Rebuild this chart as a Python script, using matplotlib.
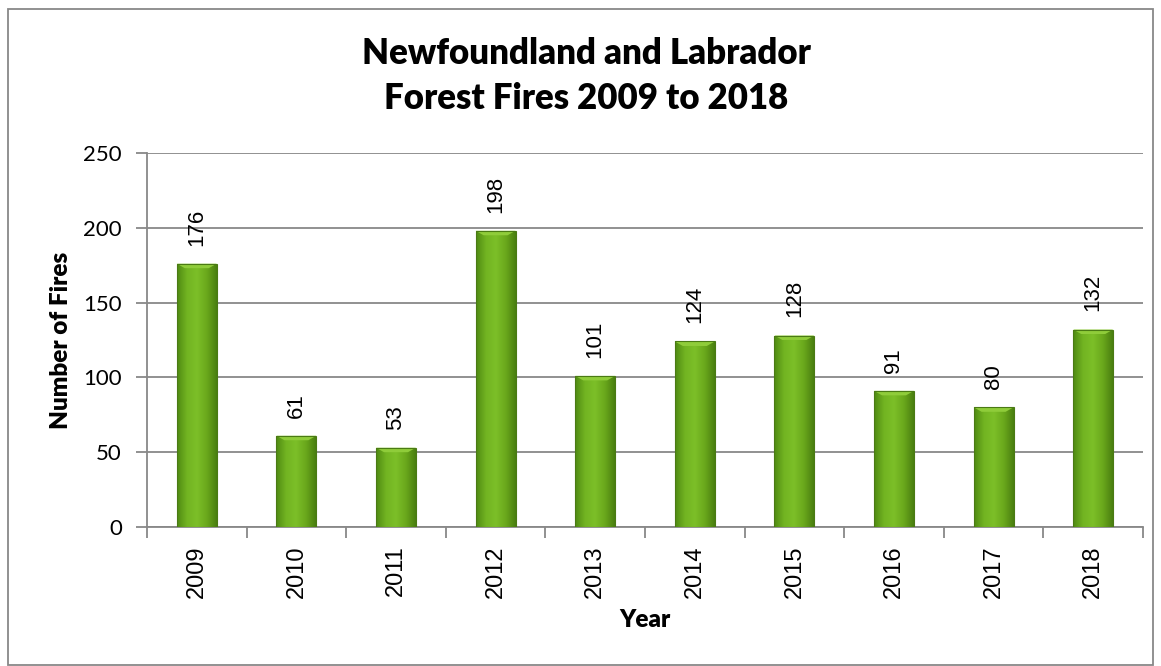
import numpy as np
import matplotlib.pyplot as plt
from matplotlib.patches import Rectangle
from matplotlib.colors import LinearSegmentedColormap

years = ['2009', '2010', '2011', '2012', '2013', '2014', '2015', '2016', '2017', '2018']
fires = [176, 61, 53, 198, 101, 124, 128, 91, 80, 132]

plt.rcParams['font.family'] = ['Lato', 'DejaVu Sans']
arial = ['Liberation Sans', 'DejaVu Sans']

fig = plt.figure(figsize=(11.61, 6.66), dpi=100)
fig.patches.append(Rectangle((8 / 1161, 0.002), 1 - 16 / 1161, 1 - 10 / 666,
                             transform=fig.transFigure, fill=False,
                             edgecolor='#888888', linewidth=1.3))
ax = fig.add_axes([0.1266, 0.2087, 0.8579, 0.5616])

x = np.arange(len(years))
bars = ax.bar(x, fires, width=0.4, color='#6aa81f', edgecolor='none', zorder=3)

# green side-to-side shading, clipped to each bar
cmap = LinearSegmentedColormap.from_list('g', ['#4f8a12', '#72b422', '#7cbf28', '#6aa81c', '#4a7f10'])
grad = np.linspace(0, 1, 100).reshape(1, -1)
for b in bars:
    bx, by = b.get_x(), b.get_y()
    w, h = b.get_width(), b.get_height()
    im = ax.imshow(grad, cmap=cmap, extent=[bx, bx + w, by, by + h],
                   aspect='auto', zorder=3.5)
    im.set_clip_path(b)
    # lighter bevel at the top
    top = min(3, h * 0.1)
    ax.fill([bx, bx + w, bx + w * 0.8, bx + w * 0.2], [by + h, by + h, by + h - top, by + h - top],
            color='#8fcc3a', zorder=4, linewidth=0)
    ax.add_patch(Rectangle((bx, by), w, h, fill=False, edgecolor='#4a7a14',
                           linewidth=0.8, zorder=4.5))
    ax.annotate(str(int(h)), (bx + w / 2, h), xytext=(0, 13), textcoords='offset points',
                rotation=90, ha='center', va='bottom', fontsize=16, family=arial, zorder=5)

ax.set_xlim(-0.5, len(years) - 0.5)
ax.set_ylim(0, 250)
ax.set_yticks([0, 50, 100, 150, 200, 250])
ax.set_xticks(x)
ax.set_xticklabels(years, rotation=90, family=arial)
ax.set_xticks(np.arange(-0.5, len(years)), minor=True)
ax.tick_params(axis='x', which='major', length=0, labelsize=17, pad=13)
ax.tick_params(axis='x', which='minor', length=8, color='#888888', width=1.3)
ax.tick_params(axis='y', length=8, color='#888888', width=1.3, labelsize=16, pad=10)

ax.yaxis.grid(True, color='#888888', linewidth=1.3, zorder=0)
ax.set_axisbelow(True)
for s in ['top', 'right']:
    ax.spines[s].set_visible(False)
for s in ['left', 'bottom']:
    ax.spines[s].set_color('#888888')
    ax.spines[s].set_linewidth(1.3)

ax.set_ylabel('Number of Fires', fontsize=17.5, fontweight='heavy', labelpad=8)
ax.set_xlabel('Year', fontsize=17.5, fontweight='heavy', labelpad=8)
fig.text(0.505, 1 - 76 / 666, 'Newfoundland and Labrador\nForest Fires 2009 to 2018',
         ha='center', va='center', fontsize=25, fontweight='heavy', linespacing=1.44)

fig.savefig('out.png', dpi=100)
